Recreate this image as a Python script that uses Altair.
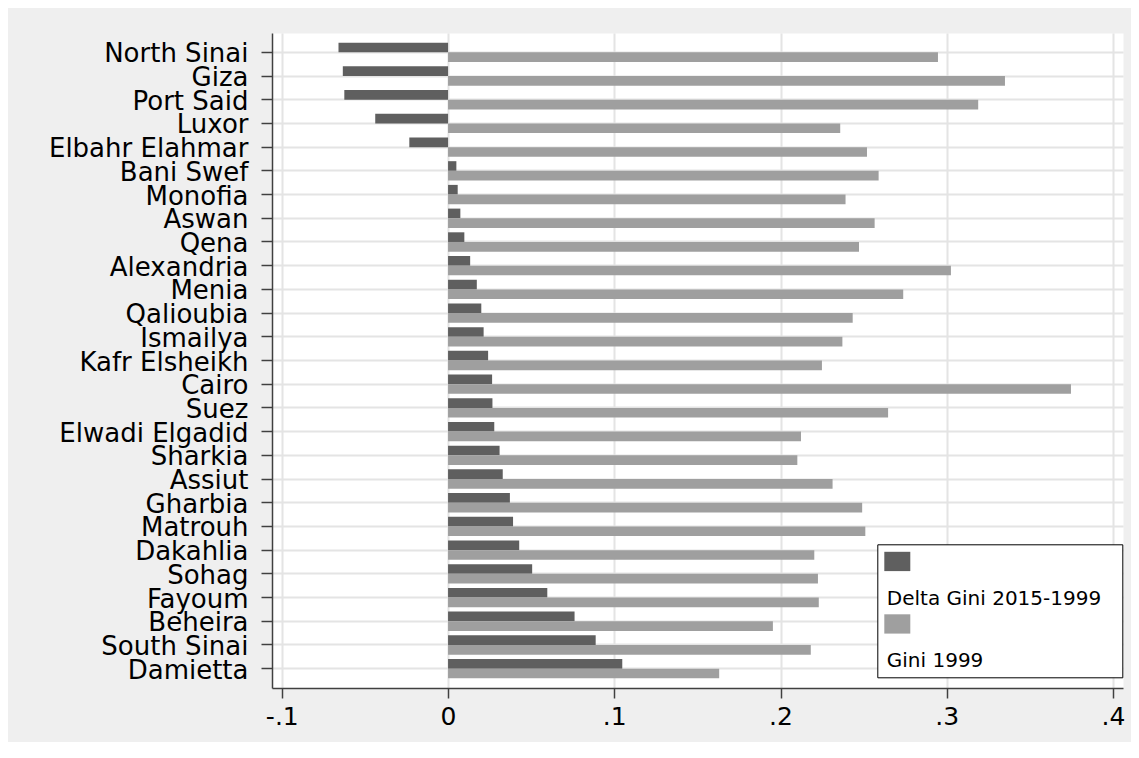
import altair as alt
import pandas as pd

regions = ["North Sinai", "Giza", "Port Said", "Luxor", "Elbahr Elahmar", "Bani Swef",
           "Monofia", "Aswan", "Qena", "Alexandria", "Menia", "Qalioubia", "Ismailya",
           "Kafr Elsheikh", "Cairo", "Suez", "Elwadi Elgadid", "Sharkia", "Assiut",
           "Gharbia", "Matrouh", "Dakahlia", "Sohag", "Fayoum", "Beheira", "South Sinai",
           "Damietta"]

delta_gini = [-0.0659, -0.0633, -0.0624, -0.0438, -0.0233, 0.0050, 0.0058, 0.0074, 0.0098,
              0.0133, 0.0173, 0.0200, 0.0214, 0.0241, 0.0265, 0.0267, 0.0278, 0.0310,
              0.0329, 0.0372, 0.0391, 0.0428, 0.0506, 0.0597, 0.0761, 0.0888, 0.1048]

gini_1999 = [0.2947, 0.3350, 0.3189, 0.2359, 0.2520, 0.2590, 0.2391, 0.2566, 0.2472,
             0.3025, 0.2738, 0.2434, 0.2372, 0.2249, 0.3747, 0.2647, 0.2123, 0.2101,
             0.2313, 0.2491, 0.2510, 0.2203, 0.2225, 0.2230, 0.1954, 0.2182, 0.1631]

series_names = ["Delta Gini 2015-1999", "Gini 1999"]
series_colors = ["#5f5f5f", "#9f9f9f"]
x_ticks = [-0.1, 0.0, 0.1, 0.2, 0.3, 0.4]

rows = []
for r, d, g in zip(regions, delta_gini, gini_1999):
    rows.append({"region": r, "series": series_names[0], "value": d})
    rows.append({"region": r, "series": series_names[1], "value": g})
df = pd.DataFrame(rows)

FONT = "DejaVu Sans"
AXIS_COL = "#404040"
GRID_COL = "#e4e4e4"

legend_symbol = "M-9,-47 L17,-47 L17,-27.7 L-9,-27.7 Z"

chart = alt.Chart(df).mark_bar().encode(
    x=alt.X("value:Q",
            scale=alt.Scale(domain=[-0.1059, 0.406], nice=False, zero=False),
            axis=alt.Axis(values=x_ticks, title="",
                          labelExpr="(datum.value < 0 ? '-' : '') + (datum.value == 0 ? '0' : '.' + round(abs(datum.value) * 10))",
                          labelFont=FONT, labelFontSize=25, labelColor="black",
                          labelFlush=False, labelPadding=6,
                          tickSize=10, tickColor=AXIS_COL, tickWidth=1.5,
                          domainColor=AXIS_COL, domainWidth=1.5,
                          grid=True, gridColor=GRID_COL, gridWidth=2)),
    y=alt.Y("region:N", sort=regions,
            scale=alt.Scale(paddingInner=0.185, paddingOuter=0.407),
            axis=alt.Axis(title="", labelFont=FONT, labelFontSize=26, labelColor="black",
                          labelPadding=13, labelOffset=2, labelLimit=600,
                          tickSize=11, tickColor=AXIS_COL, tickWidth=1.5,
                          domainColor=AXIS_COL, domainWidth=1.5, bandPosition=0.5,
                          grid=True, gridColor=GRID_COL, gridWidth=2)),
    yOffset=alt.YOffset("series:N", sort=series_names,
                        scale=alt.Scale(paddingInner=0, paddingOuter=0)),
    color=alt.Color("series:N",
                    scale=alt.Scale(domain=series_names, range=series_colors),
                    legend=alt.Legend(title=" ", titleFontSize=20, titlePadding=18.5,
                                      orient="none", legendX=605.3, legendY=511.3,
                                      direction="vertical", symbolType=legend_symbol,
                                      symbolSize=4, symbolStrokeWidth=0, symbolOpacity=1,
                                      labelFont=FONT, labelFontSize=20, labelColor="black",
                                      labelExpr="datum.label + '\u2800'",
                                      labelLimit=600, labelOffset={"expr": "-16.5"},
                                      rowPadding=5.5,
                                      padding=6, fillColor="white", strokeColor="black")),
).properties(
    width=851,
    height=655,
    autosize=alt.AutoSizeParams(type="none"),
    padding={"left": 264, "top": 25, "right": 8, "bottom": 54},
    background="#efefef",
).configure_view(
    fill="white",
    stroke="transparent",
)

chart.save("out.html", embed_options={"renderer": "svg", "actions": False})
